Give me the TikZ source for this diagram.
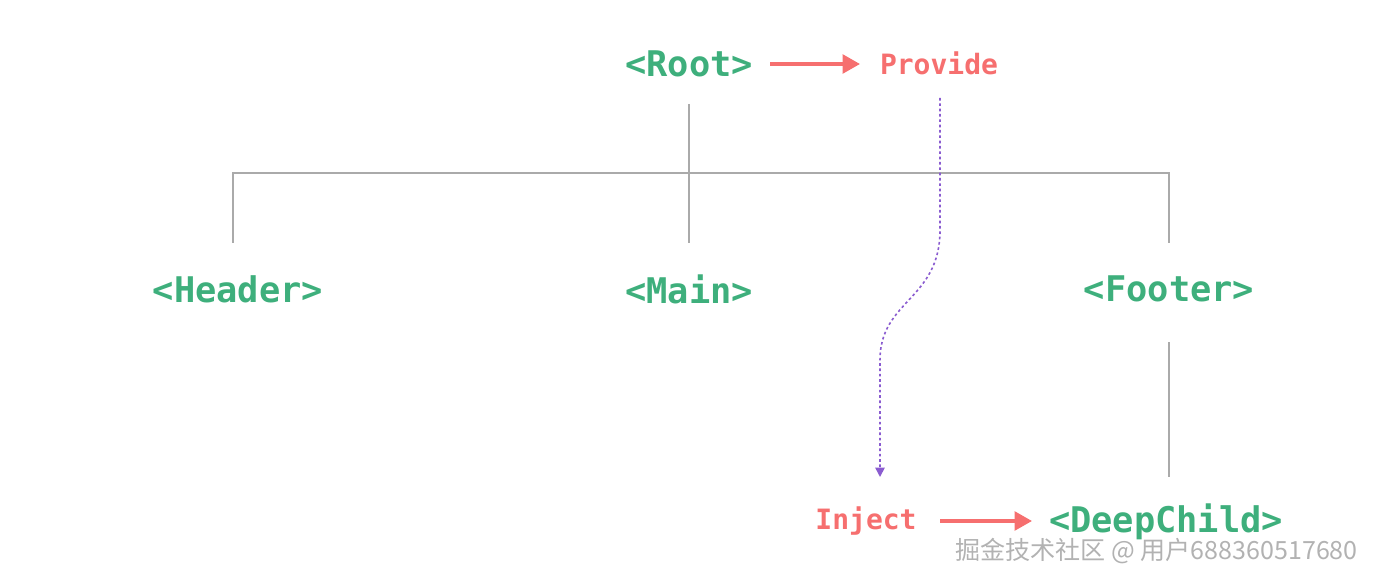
\documentclass[tikz,border=0pt]{standalone}
\usepackage{fontspec}
\setmonofont{DejaVu Sans Mono}
\newfontfamily\cjk{Noto Sans CJK SC}
\usetikzlibrary{arrows.meta}
\definecolor{vgreen}{HTML}{3EAF7C}
\definecolor{vred}{HTML}{F66F6F}
\definecolor{vpurple}{HTML}{8A5CD0}
\definecolor{lgray}{HTML}{AAAAAA}
\begin{document}
\begin{tikzpicture}[x=0.75pt,y=-0.75pt,
  comp/.style={text=vgreen,font=\ttfamily\bfseries\fontsize{26.5}{30}\selectfont,inner sep=0pt},
  api/.style={text=vred,font=\ttfamily\bfseries\fontsize{21}{24}\selectfont,inner sep=0pt},
  tree/.style={draw=lgray,line width=1.5pt},
  redarrow/.style={draw=vred,line width=2.5pt,-{Triangle[length=13pt,width=14pt]}}]
\useasboundingbox (0,0) rectangle (1376,584);
\node[comp] (root) at (689,64) {<Root>};
\node[api] (provide) at (939,63) {Provide};
\node[comp] (header) at (238,289) {<Header>};
\node[comp] (main) at (689,289) {<Main>};
\node[comp] (footer) at (1169,289) {<Footer>};
\node[api] (inject) at (866,521) {Inject};
\node[comp] (deep) at (1166,522) {<DeepChild>};
\coordinate (rs) at (689,104);
\coordinate (j) at (689,173);
\coordinate (hl) at (233,173);
\coordinate (fl) at (1169,173);
\draw[tree] (rs) -- (689,243);
\draw[tree] (233,243) -- (hl) -- (fl) -- (1169,243);
\draw[tree] (1169,342) -- (1169,477);
\draw[redarrow] (770,64) -- (860,64);
\draw[redarrow] (940,521) -- (1032,521);
\draw[vpurple,line width=1.2pt,dash pattern=on 2pt off 2pt,-{Triangle[length=7pt,width=7pt]}]
  (940,98) -- (940,230) .. controls (940,300) and (880,300) .. (880,360) -- (880,477);
\node[text=gray!60,font=\cjk\fontsize{18.8}{22}\selectfont,anchor=east,inner sep=0pt] at (1358,551) {掘金技术社区 @ 用户688360517680};
\end{tikzpicture}
\end{document}
